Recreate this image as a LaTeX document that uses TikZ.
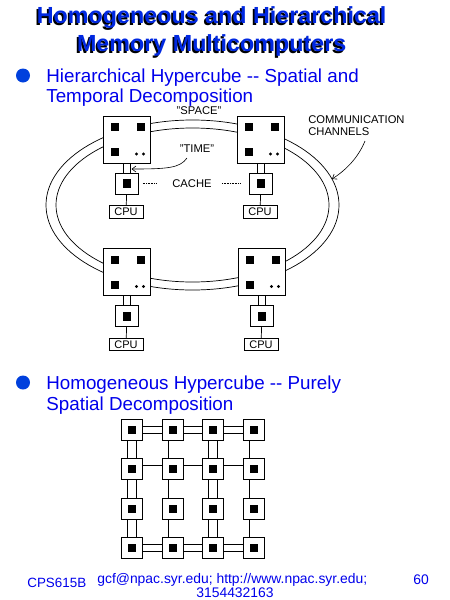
\documentclass[tikz,border=0pt]{standalone}
\usepackage{fontspec}
\setmainfont{Liberation Sans}
\usetikzlibrary{arrows.meta,backgrounds}
\definecolor{txtblue}{RGB}{0,0,235}
\definecolor{dotblue}{RGB}{0,64,221}
\definecolor{titleblue}{RGB}{0,40,225}
\newcommand\hunit[3]{%
  \node[membox] (M#1) at (#2,#3) {};
  \fill (M#1.center) ++(-16.5,-16.5) rectangle ++(8,8);
  \fill (M#1.center) ++(9.5,-16.5) rectangle ++(8,8);
  \fill (M#1.center) ++(-16.5,8.5) rectangle ++(8,8);
  \fill (M#1.center) ++(9.5,14.5) circle (1.7);
  \fill (M#1.center) ++(16.5,14.5) circle (1.7);
  \node[cachebox] (C#1) at (#2,#3+44) {};
  \fill (C#1.center) ++(-4,-4.5) rectangle ++(8,9);
  \node[cpubox] (P#1) at (#2-1,#3+72.5) {CPU};
  \begin{scope}[on background layer]
    \draw[memlink] (M#1) -- (C#1);
  \end{scope}
  \draw (C#1) -- (P#1);
}
\begin{document}
\begin{tikzpicture}[x=1pt,y=-1pt,line width=0.7pt,
  membox/.style={draw, fill=white, minimum width=47pt, minimum height=47pt, inner sep=0pt},
  cachebox/.style={draw, fill=white, minimum width=23pt, minimum height=21pt, inner sep=0pt},
  cpubox/.style={draw, fill=white, minimum width=34pt, minimum height=12.5pt, inner sep=0pt, font=\fontsize{11}{11}\selectfont},
  gridbox/.style={draw, fill=white, minimum width=21pt, minimum height=21pt, inner sep=0pt},
  memlink/.style={double distance=6.5pt, line width=0.7pt},
  hlink/.style={double distance=6.5pt, line width=0.6pt},
  vlink/.style={double distance=8pt, line width=0.6pt},
  small/.style={font=\fontsize{11.2}{12}\selectfont, inner sep=0pt},
  bullettxt/.style={text=txtblue, font=\fontsize{18.8}{20}\selectfont, inner sep=0pt, anchor=base west},
  foot/.style={text=txtblue, font=\fontsize{13.9}{14}\selectfont, inner sep=0pt, anchor=base west},
  titlefont/.style={font=\fontsize{23.3}{24}\selectfont\bfseries, inner sep=0pt, anchor=base},
  bulletdot/.style={circle, fill=dotblue, minimum size=14pt, inner sep=0pt},
  cachedots/.style={line width=0.6pt, dash pattern=on 0.9pt off 0.7pt},
  arr/.style={line width=0.6pt, -{Straight Barb[length=4pt,width=6pt]}}
]
\useasboundingbox (0,0) rectangle (450,600);
% title (blue text with black drop shadow)
\node[titlefont, text=black] (t1s) at (210,25.5) {Homogeneous and Hierarchical};
\node[titlefont, text=titleblue] (t1) at (211.7,23.8) {Homogeneous and Hierarchical};
\node[titlefont, text=black] (t2s) at (210,53.5) {Memory Multicomputers};
\node[titlefont, text=titleblue] (t2) at (211.7,51.8) {Memory Multicomputers};
% bullet 1
\node[bulletdot] (bul1) at (23,75.5) {};
\node[bullettxt] (b1a) at (46,82) {Hierarchical Hypercube -{}- Spatial and};
\node[bullettxt] (b1b) at (46,102.5) {Temporal Decomposition};
% channels ring
\draw[line width=0.7pt] (192.5,205) ellipse [x radius=146.5, y radius=85];
\draw[line width=0.7pt] (192.5,205) ellipse [x radius=136.5, y radius=77];
% units
\hunit{1}{127}{139.5}
\hunit{2}{261}{139.5}
\hunit{3}{127}{272}
\hunit{4}{262}{272}
% labels
\node[small] (space) at (199,111) {"SPACE"};
\node[small] (time) at (197,149) {"TIME"};
\node[small, inner xsep=10pt] (cache) at (192,183.5) {CACHE};
\draw[cachedots, shorten <=4pt, shorten >=5pt] (C1.east) -- (cache.west);
\draw[cachedots, shorten >=8pt] (cache.east) -- (C2.west);
\coordinate (timestart) at (187,158);
\coordinate (timept) at (131.5,169);
\draw[arr] (timestart) .. controls (180,168) and (168,169) .. (timept);
\node[small, anchor=base west] (comm1) at (308,123) {COMMUNICATION};
\node[small, anchor=base west] (comm2) at (308,135) {CHANNELS};
\coordinate (chanstart) at (365,141);
\coordinate (chanpt) at (332,179);
\draw[arr] (chanstart) .. controls (358,158) and (346,170) .. (chanpt);
% bullet 2
\node[bulletdot] (bul2) at (23,382.5) {};
\node[bullettxt] (b2a) at (46,389) {Homogeneous Hypercube -{}- Purely};
\node[bullettxt] (b2b) at (46,410) {Spatial Decomposition};
% grid
\foreach \r in {1,...,4} {
  \foreach \c in {1,...,4} {
    \node[gridbox] (G\r\c) at ({132+(\c-1)*40.5},{430+(\r-1)*39.3}) {};
    \fill (G\r\c.center) ++(-4,-4) rectangle ++(8,8);
  }
}
\begin{scope}[on background layer]
\foreach \r in {1,...,4} {
  \foreach \c [evaluate=\c as \n using {int(\c+1)}] in {1,2,3} {
    \draw[hlink] (G\r\c.center) -- (G\r\n.center);
  }
}
\foreach \r [evaluate=\r as \n using {int(\r+1)}] in {1,2,3} {
  \foreach \c in {1,...,4} {
    \draw[vlink] (G\r\c.center) -- (G\n\c.center);
  }
}
\end{scope}
% footer
\node[foot, font=\fontsize{13.4}{14}\selectfont] (f1) at (27,587) {CPS615B};
\node[foot] (f2) at (97,583) {gcf@npac.syr.edu; http://www.npac.syr.edu;};
\node[foot] (f3) at (196,597) {3154432163};
\node[foot] (f4) at (413,584.5) {60};
\end{tikzpicture}
\end{document}
